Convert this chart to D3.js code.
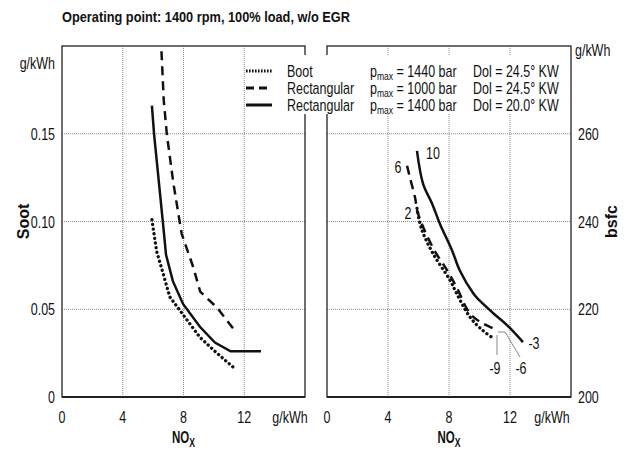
<!DOCTYPE html>
<html><head><meta charset="utf-8">
<script src="https://cdn.jsdelivr.net/npm/d3@7"></script>
<style>
body{margin:0;background:#fff;}
text{font-family:"Liberation Sans",Arial,sans-serif;fill:#111;}
</style></head>
<body><svg id="c" width="627" height="451"></svg>
<script>
const title = "Operating point: 1400 rpm, 100% load, w/o EGR";
const noxTicks = [0, 4, 8, 12];
const sootTicks = [0, 0.05, 0.10, 0.15];
const sootTickLabels = ["0", "0.05", "0.10", "0.15"];
const bsfcTicks = [200, 220, 240, 260];

// Left panel: Soot vs NOx
const sootBootNox   = [5.92, 6.23, 6.67, 7.1, 7.88, 9.08, 10.2, 11.27];
const sootBootVal   = [0.101, 0.083, 0.070, 0.057, 0.048, 0.034, 0.025, 0.017];
const sootRect1000Nox = [6.55, 6.7, 6.9, 7.33, 7.88, 8.64, 9.1, 10.2, 11.27];
const sootRect1000Val = [0.197, 0.169, 0.150, 0.122, 0.093, 0.074, 0.060, 0.051, 0.039];
const sootRect1400Nox = [5.92, 6.06, 6.65, 6.85, 7.3, 7.97, 9.08, 10.07, 11.1, 13.1];
const sootRect1400Val = [0.166, 0.150, 0.099, 0.081, 0.066, 0.053, 0.040, 0.031, 0.026, 0.026];

// Right panel: bsfc vs NOx
const bsfcBootNox   = [5.9, 6.2, 6.95, 8.07, 8.5, 9.38, 10.2, 10.9];
const bsfcBootVal   = [243, 238.3, 232.7, 226.6, 223.6, 218.2, 215.2, 213.4];
const bsfcRect1000Nox = [5.25, 5.44, 5.77, 5.97, 6.95, 7.87, 8.5, 9.38, 10.2, 11.2];
const bsfcRect1000Val = [252.7, 250, 245.5, 241.8, 234, 228.9, 225, 219, 216.8, 215.2];
const bsfcRect1400Nox = [5.9, 6.3, 6.9, 7.4, 8.2, 8.7, 9.6, 10.0, 10.9, 11.8, 12.85];
const bsfcRect1400Val = [256.1, 248.6, 244, 239.5, 233.4, 228.9, 223.6, 222, 219.1, 216.4, 212.5];

const legendNames = ["Boot", "Rectangular", "Rectangular"];
const legendP = ["1440", "1000", "1400"];
const legendDol = ["Dol = 24.5° KW", "Dol = 24.5° KW", "Dol = 20.0° KW"];
const styles = ["dot", "dash", "solid"];

const svg = d3.select("#c");
const plotTop = 46, plotBottom = 397;
const F = 0.78;
function cond(t, f) {
  f = f || F;
  const x = +t.attr("x");
  t.attr("transform", `translate(${x},0) scale(${f},1) translate(${-x},0)`);
  return t;
}

svg.append("text").attr("x", 62).attr("y", 22).attr("font-size", 15).attr("font-weight", "bold")
  .attr("textLength", 288).attr("lengthAdjust", "spacingAndGlyphs").text(title);

function dashFor(s){ return s === "dot" ? "0.1,4.6" : s === "dash" ? "9,6" : null; }
function widthFor(s){ return s === "dot" ? 3.3 : 2.5; }
function capFor(s){ return s === "dot" ? "round" : "butt"; }

function panel(x0, x1, yDomain, ticks, tickLabels, side, series, curve) {
  const x = d3.scaleLinear().domain([0, 16]).range([x0, x1]);
  const y = d3.scaleLinear().domain(yDomain).range([plotBottom, plotTop]);
  const g = svg.append("g");
  g.selectAll(".gx").data(noxTicks.slice(1)).join("line")
    .attr("x1", d => x(d)).attr("x2", d => x(d)).attr("y1", plotTop).attr("y2", plotBottom)
    .attr("stroke", "#888").attr("stroke-width", 1).attr("stroke-dasharray", "1,1");
  g.selectAll(".gy").data(ticks.slice(1)).join("line")
    .attr("x1", x0).attr("x2", x1).attr("y1", d => y(d)).attr("y2", d => y(d))
    .attr("stroke", "#888").attr("stroke-width", 1).attr("stroke-dasharray", "1,1");
  g.append("rect").attr("x", x0).attr("y", plotTop).attr("width", x1 - x0).attr("height", plotBottom - plotTop)
    .attr("fill", "none").attr("stroke", "#222").attr("stroke-width", 1.3);
  g.append("line").attr("x1", x0).attr("x2", x1).attr("y1", plotBottom).attr("y2", plotBottom)
    .attr("stroke", "#222").attr("stroke-width", 2);
  g.selectAll(".xt").data(noxTicks).join("text")
    .attr("x", d => x(d)).attr("y", 423).attr("text-anchor", "middle").attr("font-size", 16).text(d => d)
    .each(function(){ cond(d3.select(this)); });
  g.selectAll(".yt").data(ticks).join("text")
    .attr("x", side === "left" ? x0 - 7 : x1 + 7).attr("y", d => y(d) + 6)
    .attr("text-anchor", side === "left" ? "end" : "start").attr("font-size", 16)
    .text((d, i) => tickLabels[i])
    .each(function(){ cond(d3.select(this)); });
  const line = d3.line().x(d => x(d[0])).y(d => y(d[1])).curve(curve);
  series.forEach(s => {
    g.append("path").datum(d3.zip(s.x, s.y)).attr("d", line)
      .attr("fill", "none").attr("stroke", "#111")
      .attr("stroke-width", widthFor(s.style))
      .attr("stroke-linecap", capFor(s.style))
      .attr("stroke-dasharray", dashFor(s.style));
  });
  return {x, y, g};
}

const L = panel(62, 305, [0, 0.2], sootTicks, sootTickLabels, "left", [
  {x: sootBootNox, y: sootBootVal, style: "dot"},
  {x: sootRect1000Nox, y: sootRect1000Val, style: "dash"},
  {x: sootRect1400Nox, y: sootRect1400Val, style: "solid"}
], d3.curveLinear);
const R = panel(327, 571, [200, 280], bsfcTicks, bsfcTicks.map(String), "right", [
  {x: bsfcBootNox, y: bsfcBootVal, style: "dot"},
  {x: bsfcRect1000Nox, y: bsfcRect1000Val, style: "dash"},
  {x: bsfcRect1400Nox, y: bsfcRect1400Val, style: "solid"}
], d3.curveCatmullRom);

cond(svg.append("text").attr("x", 290).attr("y", 423).attr("text-anchor", "middle").attr("font-size", 16).text("g/kWh"));
cond(svg.append("text").attr("x", 552).attr("y", 423).attr("text-anchor", "middle").attr("font-size", 16).text("g/kWh"));
cond(svg.append("text").attr("x", 55).attr("y", 69).attr("text-anchor", "end").attr("font-size", 16).text("g/kWh"));
cond(svg.append("text").attr("x", 575).attr("y", 56).attr("text-anchor", "start").attr("font-size", 16).text("g/kWh"));
[L.x(8), R.x(8)].forEach(cx => {
  const t = svg.append("text").attr("x", cx).attr("y", 443).attr("text-anchor", "middle")
    .attr("font-size", 16).attr("font-weight", "bold");
  t.append("tspan").text("NO");
  t.append("tspan").attr("font-size", 12).attr("dy", 4).text("X");
  cond(t, 0.72);
});
svg.append("text").attr("transform", `translate(29,${L.y(0.1)}) rotate(-90)`).attr("text-anchor", "middle")
  .attr("font-size", 16).attr("font-weight", "bold").text("Soot");
svg.append("text").attr("transform", `translate(617,${R.y(240)}) rotate(-90)`).attr("text-anchor", "middle")
  .attr("font-size", 16).attr("font-weight", "bold").text("bsfc");

svg.append("rect").attr("x", 246).attr("y", 55).attr("width", 318).attr("height", 59).attr("fill", "#fff");
const rowY = [71, 88, 105];
styles.forEach((s, i) => {
  svg.append("line").attr("x1", 246).attr("x2", 272).attr("y1", rowY[i]).attr("y2", rowY[i])
    .attr("stroke", "#111").attr("stroke-width", s === "dot" ? 3 : 3)
    .attr("stroke-dasharray", s === "dash" ? "8,5" : s === "dot" ? "1.6,1.4" : null);
  cond(svg.append("text").attr("x", 287).attr("y", rowY[i] + 6).attr("font-size", 16).text(legendNames[i]));
  const t = svg.append("text").attr("x", 370).attr("y", rowY[i] + 6).attr("font-size", 16);
  t.append("tspan").text("p");
  t.append("tspan").attr("font-size", 11).attr("dy", 3).text("max");
  t.append("tspan").attr("dy", -3).text(" = " + legendP[i] + " bar");
  cond(t);
  cond(svg.append("text").attr("x", 473).attr("y", rowY[i] + 6).attr("font-size", 16).text(legendDol[i]));
});

const ann = [["10", 433, 159], ["6", 398, 173], ["2", 408, 219], ["-3", 534, 349], ["-9", 495, 374], ["-6", 521, 374]];
ann.forEach(a => cond(svg.append("text").attr("x", a[1]).attr("y", a[2]).attr("font-size", 16).attr("text-anchor", "middle").text(a[0])));
// leader lines from the curve ends to the -9 and -6 labels
svg.append("line").attr("x1", 497).attr("x2", 497).attr("y1", 335).attr("y2", 355)
  .attr("stroke", "#888").attr("stroke-width", 1);
svg.append("polyline").attr("points", "498,332 505,332 520,357")
  .attr("fill", "none").attr("stroke", "#888").attr("stroke-width", 1);
</script></body></html>
